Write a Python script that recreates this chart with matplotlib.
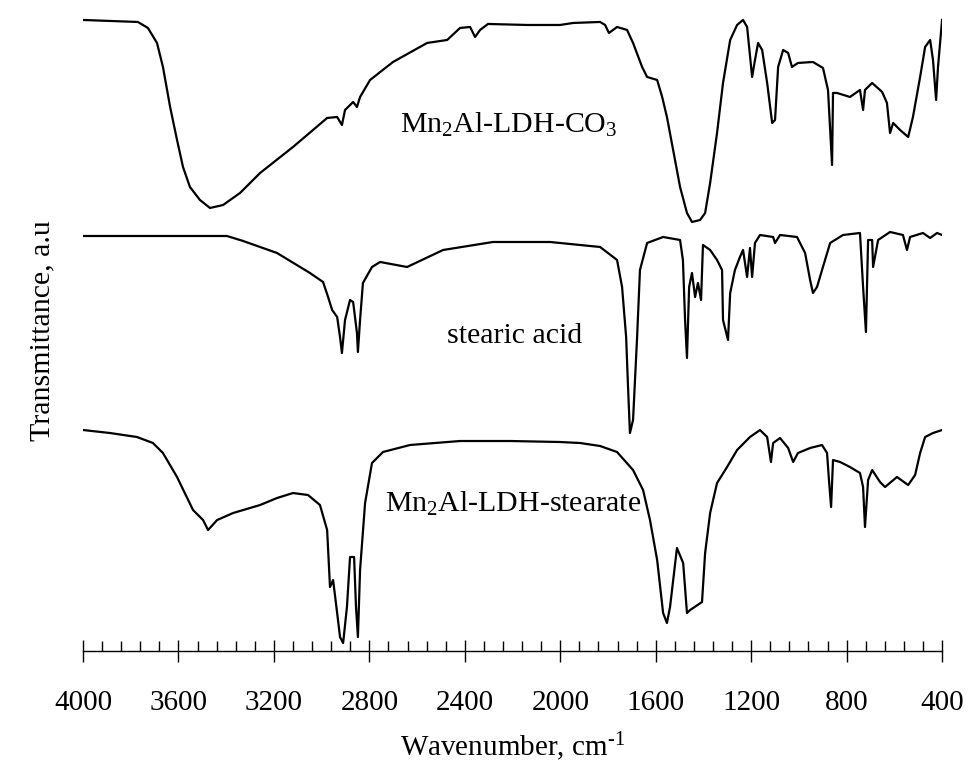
import matplotlib
matplotlib.use("Agg")
import matplotlib.pyplot as plt
from matplotlib.ticker import MultipleLocator

plt.rcParams['font.family'] = ['Liberation Serif', 'DejaVu Serif']
plt.rcParams['mathtext.fontset'] = 'custom'
plt.rcParams['mathtext.rm'] = 'Liberation Serif'
plt.rcParams['mathtext.it'] = 'Liberation Serif:italic'

# Mn2Al-LDH-CO3 (top trace)
wn_co3 = [4000, 3770, 3728, 3690, 3665, 3635, 3606, 3581, 3552, 3510, 3468, 3413,
          3342, 3258, 3120, 2977, 2935, 2915, 2902, 2868, 2852, 2839, 2797, 2701,
          2558, 2474, 2420, 2378, 2357, 2336, 2303, 2139, 2001, 1946, 1833, 1812,
          1796, 1762, 1720, 1695, 1657, 1636, 1594, 1573, 1553, 1527, 1498, 1469,
          1448, 1414, 1393, 1372, 1343, 1318, 1288, 1259, 1234, 1217, 1196, 1184,
          1171, 1154, 1133, 1112, 1100, 1087, 1066, 1045, 1029, 1004, 941, 899,
          878, 861, 857, 840, 786, 744, 731, 723, 693, 651, 631, 618, 605, 576,
          542, 522, 492, 471, 450, 438, 425, 417, 400]
t_co3 = [63.1, 62.9, 62.3, 60.8, 58.4, 54.4, 51.1, 48.4, 46.4, 45.1, 44.3, 44.6,
         45.8, 47.8, 50.4, 53.3, 53.4, 52.6, 54.1, 54.9, 54.4, 55.4, 57.1, 58.9,
         60.8, 61.1, 62.3, 62.4, 61.4, 62.1, 62.7, 62.6, 62.6, 62.8, 62.9, 62.6,
         61.8, 62.4, 62.1, 60.8, 58.4, 57.4, 57.1, 55.4, 53.4, 50.1, 46.4, 43.8,
         42.9, 43.1, 43.8, 46.8, 51.8, 56.8, 61.1, 62.6, 63.1, 62.4, 57.4, 59.1,
         60.8, 60.1, 56.8, 52.8, 53.1, 58.4, 60.1, 59.8, 58.4, 58.8, 58.9, 58.3,
         56.1, 48.6, 55.8, 55.8, 55.4, 56.1, 54.1, 56.1, 56.8, 55.9, 54.8, 51.8,
         52.8, 52.1, 51.4, 53.4, 57.4, 60.4, 61.1, 59.1, 55.1, 58.4, 63.1]

# stearic acid (middle trace)
wn_sa = [4000, 3397, 3329, 3187, 3049, 2994, 2973, 2956, 2935, 2923, 2915, 2902,
         2881, 2868, 2852, 2848, 2839, 2827, 2789, 2755, 2642, 2491, 2282, 2043,
         1833, 1762, 1741, 1724, 1716, 1708, 1695, 1678, 1666, 1636, 1569, 1498,
         1486, 1477, 1469, 1460, 1448, 1435, 1423, 1410, 1402, 1372, 1343, 1322,
         1318, 1297, 1288, 1268, 1247, 1234, 1217, 1205, 1196, 1184, 1163, 1108,
         1100, 1079, 1008, 974, 953, 941, 924, 903, 869, 815, 744, 731, 719, 710,
         693, 689, 668, 618, 564, 547, 534, 480, 450, 421, 400]
t_sa = [41.5, 41.5, 41.0, 39.8, 37.8, 36.9, 35.4, 34.1, 33.4, 31.4, 29.8, 33.1,
        35.1, 34.9, 31.8, 29.9, 33.1, 36.8, 38.4, 38.9, 38.4, 40.1, 40.9, 40.9,
        40.4, 39.1, 36.4, 31.4, 26.4, 21.8, 23.1, 31.4, 38.1, 40.8, 41.4, 41.1,
        39.1, 33.1, 29.3, 36.4, 37.8, 35.4, 36.8, 35.1, 40.6, 40.1, 39.1, 38.1,
        33.1, 31.1, 35.8, 38.1, 39.4, 40.1, 37.4, 40.3, 37.4, 40.8, 41.6, 41.4,
        40.8, 41.6, 41.4, 39.8, 37.1, 35.8, 36.4, 38.1, 40.8, 41.6, 41.8, 36.4,
        31.9, 41.1, 41.1, 38.4, 41.1, 41.9, 41.6, 40.1, 41.4, 41.8, 41.3, 41.8, 41.6]

# Mn2Al-LDH-stearate (bottom trace)
wn_st = [4000, 3887, 3774, 3707, 3665, 3606, 3539, 3497, 3476, 3438, 3371, 3258,
         3187, 3120, 3057, 3007, 2977, 2965, 2952, 2935, 2923, 2910, 2894, 2881,
         2864, 2856, 2848, 2839, 2818, 2789, 2743, 2630, 2420, 2210, 2001, 1917,
         1833, 1762, 1695, 1653, 1624, 1594, 1569, 1553, 1540, 1511, 1485, 1469,
         1456, 1406, 1393, 1372, 1343, 1301, 1259, 1205, 1163, 1133, 1117, 1108,
         1079, 1045, 1024, 1004, 953, 903, 882, 874, 865, 857, 827, 786, 744, 731,
         723, 710, 693, 660, 639, 589, 542, 513, 492, 471, 438, 400]
t_st = [22.1, 21.8, 21.4, 20.8, 19.8, 17.4, 14.1, 13.1, 12.1, 13.1, 13.8, 14.6,
        15.3, 15.8, 15.6, 14.6, 12.1, 6.4, 7.1, 3.8, 1.4, 0.8, 4.4, 9.4,
        9.4, 4.4, 1.4, 8.1, 14.8, 18.8, 19.9, 20.6, 21.0, 21.0, 20.9, 20.8,
        20.5, 19.9, 18.1, 16.1, 13.1, 9.1, 3.8, 2.8, 4.4, 10.3, 8.8, 3.8,
        4.1, 4.9, 9.8, 13.8, 16.8, 18.4, 20.1, 21.4, 22.1, 21.4, 18.9, 20.8,
        21.3, 20.3, 18.9, 19.8, 20.3, 20.6, 19.8, 17.1, 14.4, 19.1, 18.9, 18.4,
        17.8, 16.4, 12.4, 17.1, 18.1, 16.9, 16.4, 17.4, 16.6, 17.6, 19.8, 21.4,
        21.8, 22.1]

x_ticks = [4000, 3600, 3200, 2800, 2400, 2000, 1600, 1200, 800, 400]

fig = plt.figure(figsize=(9.71, 7.67), dpi=100)
ax = fig.add_axes([0.0855, 0.1512, 0.8847, 0.8345])

for wn, t in [(wn_co3, t_co3), (wn_sa, t_sa), (wn_st, t_st)]:
    ax.plot(wn, t, color="black", linewidth=1.6)

ax.text(2670, 51.8, "Mn$_2$Al-LDH-CO$_3$", fontsize=21.5, va="baseline")
ax.text(2474, 30.8, "stearic acid", fontsize=21.5, va="baseline")
ax.text(2734, 13.9, "Mn$_2$Al-LDH-stearate", fontsize=21.5, va="baseline")

ax.set_xlim(4000, 400)
ax.set_ylim(0, 64)
ax.set_xticks(x_ticks)
ax.xaxis.set_minor_locator(MultipleLocator(80))
for s in ["top", "left", "right"]:
    ax.spines[s].set_visible(False)
ax.spines["bottom"].set_linewidth(1.0)
ax.set_yticks([])
ax.tick_params(axis="x", which="major", direction="inout", length=16, width=1.0,
               labelsize=21, pad=20)
ax.tick_params(axis="x", which="minor", direction="in", length=7, width=1.0)
ax.set_xlabel("Wavenumber, cm$^{\\text{-1}}$", fontsize=21, labelpad=10)
ax.set_ylabel("Transmittance, a.u", fontsize=21.5, labelpad=20)

fig.savefig("out.png", dpi=100)
